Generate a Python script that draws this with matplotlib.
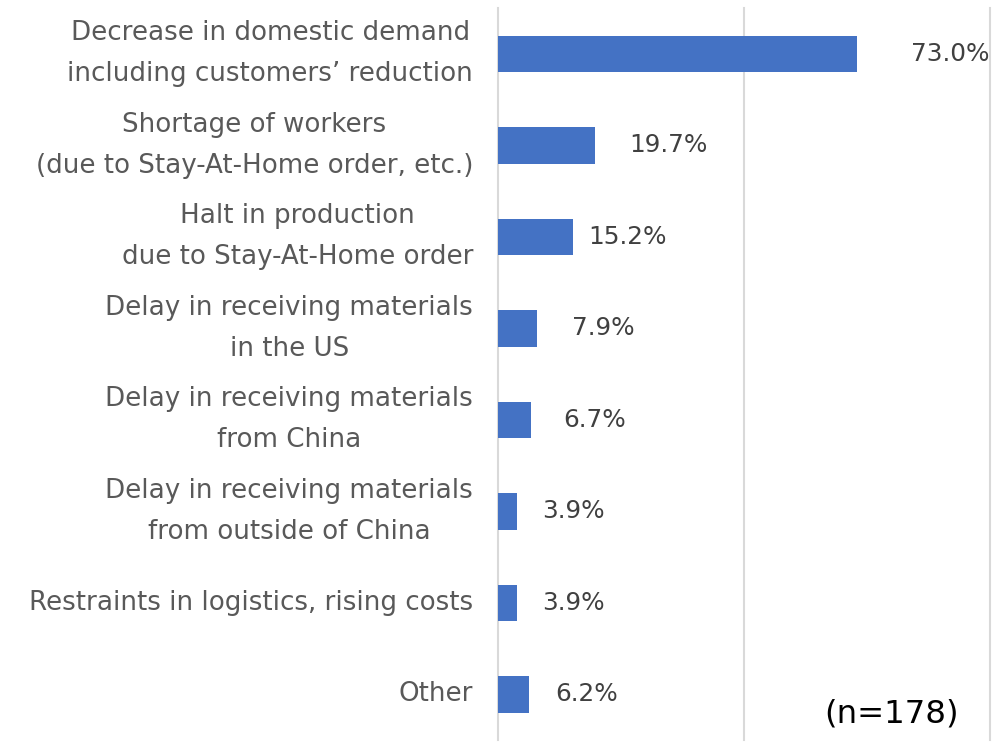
import matplotlib.pyplot as plt

# categories, top to bottom
categories = [
    "Decrease in domestic demand\nincluding customers\u2019 reduction",
    "Shortage of workers\n(due to Stay-At-Home order, etc.)",
    "Halt in production\ndue to Stay-At-Home order",
    "Delay in receiving materials\nin the US",
    "Delay in receiving materials\nfrom China",
    "Delay in receiving materials\nfrom outside of China",
    "Restraints in logistics, rising costs",
    "Other",
]
values = [73.0, 19.7, 15.2, 7.9, 6.7, 3.9, 3.9, 6.2]
n_note = "(n=178)"

# label gap from bar end, in points (as in the original)
label_pad = [39, 25, 11, 25, 23, 18, 18, 19]

plt.rcParams['font.family'] = ['DejaVu Sans']

fig = plt.figure(figsize=(10, 7.43), dpi=100)
ax = fig.add_axes([0.498, 0.004, 0.492, 0.985])

ypos = list(range(len(categories)))
ax.barh(ypos, values, height=0.4, color="#4472C4", zorder=3)
ax.set_ylim(len(categories) - 0.5, -0.5)
ax.set_xlim(0, 100)

ax.set_xticks([0, 50, 100])
ax.set_xticklabels([])
ax.grid(axis="x", color="#d9d9d9", linewidth=1.5, zorder=0)
for gl in ax.get_xgridlines():
    gl.set_clip_on(False)
ax.tick_params(axis="x", length=0)
ax.tick_params(axis="y", length=0, pad=18, labelsize=18.8, labelcolor="#595959")
for s in ax.spines.values():
    s.set_visible(False)

ax.set_yticks(ypos)
ax.set_yticklabels(categories)
for lbl in ax.get_yticklabels():
    lbl.set_multialignment("center")
    lbl.set_linespacing(1.75)
    lbl.set_verticalalignment("center")

for i, v in enumerate(values):
    ax.annotate(f"{v:.1f}%", (v, i), xytext=(label_pad[i], 0),
                textcoords="offset points", va="center", ha="left",
                fontsize=17.8, color="#404040")

ax.text(0.937, 0.035, n_note, transform=ax.transAxes, ha="right", va="center",
        fontsize=23.3, color="black")

fig.savefig("out.png", dpi=100)
